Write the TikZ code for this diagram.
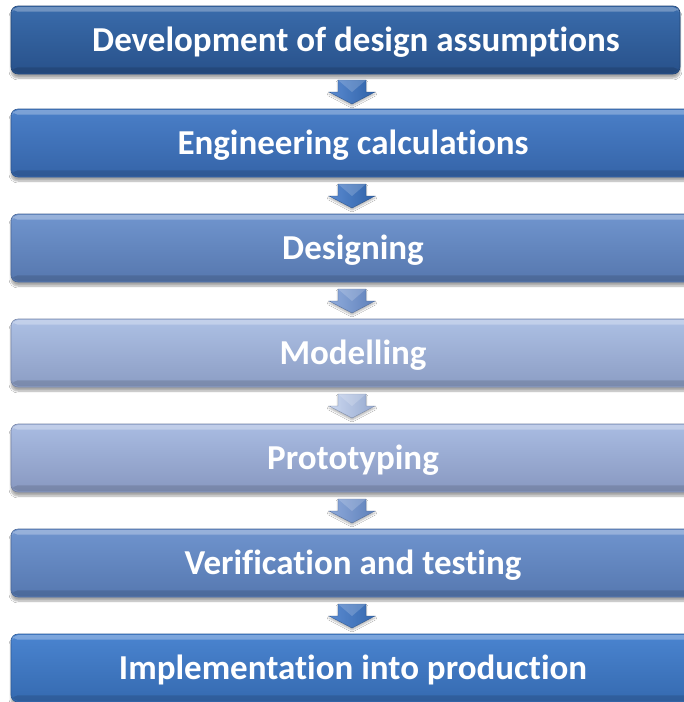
\documentclass[tikz,border=0pt]{standalone}
\usepackage{fontspec}
\setmainfont[Ligatures={NoCommon,NoContextual}]{Carlito}
\usetikzlibrary{calc,shadows.blur}
\definecolor{bAt}{HTML}{3A6CAC}\definecolor{bAm}{HTML}{2F5E9B}\definecolor{bAb}{HTML}{28518A}
\definecolor{bBt}{HTML}{4A7FC8}\definecolor{bBm}{HTML}{3D72BC}\definecolor{bBb}{HTML}{3564A8}
\definecolor{bCt}{HTML}{7095CE}\definecolor{bCm}{HTML}{6388C4}\definecolor{bCb}{HTML}{5677AE}
\definecolor{bDt}{HTML}{ADC0E4}\definecolor{bDm}{HTML}{9FB2DA}\definecolor{bDb}{HTML}{8B9DC4}
\definecolor{bEt}{HTML}{A9BCE2}\definecolor{bEm}{HTML}{9CAFD8}\definecolor{bEb}{HTML}{8898C0}
\definecolor{bFt}{HTML}{6F94CE}\definecolor{bFm}{HTML}{6488C4}\definecolor{bFb}{HTML}{5678B0}
\definecolor{bGt}{HTML}{4A84D0}\definecolor{bGm}{HTML}{3E77C5}\definecolor{bGb}{HTML}{356AB0}
\begin{document}
\begin{tikzpicture}[x=1pt,y=-1pt,
  boxstyle/.style n args={3}{rounded corners=7pt, minimum height=68pt, inner sep=0pt,
    text height=22.5pt, text depth=0pt,
    font=\fontsize{35}{40}\selectfont\bfseries, text=white,
    top color=#1, middle color=#2, bottom color=#3, draw=#3!85!black, line width=0.6pt,
    blur shadow={shadow xshift=0pt, shadow yshift=-4pt, shadow opacity=35, shadow blur steps=8}},
  arrowstyle/.style 2 args={left color=#1, right color=#2, draw=#2!80!black, line width=0.3pt,
    blur shadow={shadow xshift=0pt, shadow yshift=-2pt, shadow opacity=30, shadow blur steps=5}}]
\useasboundingbox (0,0) rectangle (684,702);
\fill[white] (0,0) rectangle (684,702);

\node[boxstyle={bAt}{bAm}{bAb}, minimum width=669pt] (b1) at (345.5,40) {\hspace*{21pt}Development of design assumptions};
\node[boxstyle={bBt}{bBm}{bBb}, minimum width=684pt] (b2) at (353,143) {Engineering calculations};
\node[boxstyle={bCt}{bCm}{bCb}, minimum width=684pt] (b3) at (353,248) {Designing};
\node[boxstyle={bDt}{bDm}{bDb}, minimum width=684pt] (b4) at (353,353) {Modelling};
\node[boxstyle={bEt}{bEm}{bEb}, minimum width=684pt] (b5) at (353,458) {Prototyping};
\node[boxstyle={bFt}{bFm}{bFb}, minimum width=684pt] (b6) at (353,563) {Verification and testing};
\node[boxstyle={bGt}{bGm}{bGb}, minimum width=684pt] (b7) at (353,668) {Implementation into production};

% bevel highlights
\foreach \n in {b1,b2,b3,b4,b5,b6,b7}{
  \fill[white,opacity=0.28,rounded corners=5pt] ([xshift=2pt,yshift=-1.5pt]\n.north west) rectangle ([xshift=-2pt,yshift=-6pt]\n.north east);
  \fill[black,opacity=0.12,rounded corners=5pt] ([xshift=2pt,yshift=7pt]\n.south west) rectangle ([xshift=-2pt,yshift=1.5pt]\n.south east);
}

% block arrows between boxes
\foreach \i/\j/\cl/\cd in {1/2/5A8AD0/2F62A8, 2/3/5A8AD0/2F62A8, 3/4/90ACDC/5E80BA, 4/5/CCD8F0/94A8CE, 5/6/8DA9DA/5E80BA, 6/7/5A8AD0/3568AE}{
  \definecolor{al}{HTML}{\cl}\definecolor{ad}{HTML}{\cd}
  \path let \p1=(b\i.south), \p2=(b\j.north) in coordinate (m\i) at (352pt,{(\y1+\y2)/2});
  \path[arrowstyle={al}{ad}]
    ([shift={(-14pt,11.5pt)}]m\i) -- ([shift={(14pt,11.5pt)}]m\i) -- ([shift={(14pt,-0.5pt)}]m\i)
    -- ([shift={(23pt,-0.5pt)}]m\i) -- ([shift={(0pt,-12.5pt)}]m\i) -- ([shift={(-23pt,-0.5pt)}]m\i)
    -- ([shift={(-14pt,-0.5pt)}]m\i) -- cycle;
  \fill[white,opacity=0.18] ([shift={(-14pt,11.5pt)}]m\i) -- ([shift={(14pt,11.5pt)}]m\i) -- ([shift={(0pt,-0.5pt)}]m\i) -- cycle;
}
\end{tikzpicture}
\end{document}
